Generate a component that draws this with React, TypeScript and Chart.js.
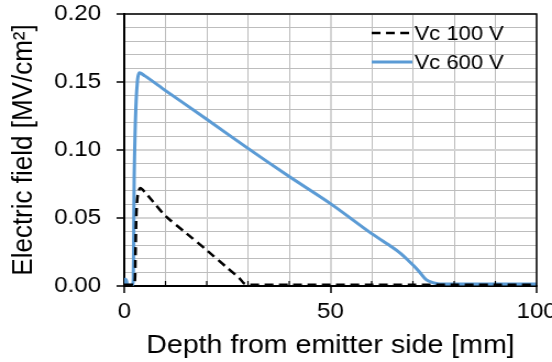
import React, { useEffect, useRef } from "react";
import { Chart, registerables } from "chart.js";

Chart.register(...registerables);

const seriesNames = ["Vc 100 V", "Vc 600 V"];

const depth100 = [0, 1, 2, 2.5, 2.7, 2.9, 3.1, 3.4, 3.9, 5, 7, 10, 15, 20, 25, 28, 29, 30, 40, 50, 60, 70, 80, 90, 100];
const field100 = [0.001, 0.001, 0.001, 0.001, 0.02, 0.05, 0.062, 0.069, 0.072, 0.069, 0.062, 0.0515, 0.0389, 0.0263, 0.0133, 0.0055, 0.002, 0.001, 0.001, 0.001, 0.001, 0.001, 0.001, 0.001, 0.001];

const depth600 = [0, 0.25, 0.5, 0.8, 2, 2.2, 2.3, 2.4, 2.6, 2.8, 3.1, 3.6, 5, 10, 20, 30, 40, 50, 60, 65, 67, 69, 70.5, 71.6, 73.2, 74.8, 76, 78, 80, 90, 100];
const field600 = [0.001, 0.005, 0.004, 0.001, 0.001, 0.01, 0.04, 0.08, 0.11, 0.13, 0.147, 0.1566, 0.1545, 0.1437, 0.1226, 0.1012, 0.0805, 0.0606, 0.0385, 0.0285, 0.024, 0.0184, 0.014, 0.0103, 0.0047, 0.0025, 0.0017, 0.0015, 0.0015, 0.0015, 0.0015];

const yTicks = [0, 0.05, 0.1, 0.15, 0.2];
const xTicks = [0, 50, 100];

const FONT = "'Liberation Sans', Arial, sans-serif";
const STRETCH = 1.1;
const W = 552;
const H = 362;
const CW = Math.round(W / STRETCH);

const framePlugin = {
  id: "frame",
  afterDraw(chart: any) {
    const { ctx, chartArea } = chart;
    ctx.save();
    ctx.strokeStyle = "#000";
    ctx.lineWidth = 1.5;
    ctx.beginPath();
    ctx.moveTo(chartArea.left, chartArea.top);
    ctx.lineTo(chartArea.right, chartArea.top);
    ctx.lineTo(chartArea.right, chartArea.bottom);
    ctx.stroke();
    // minor inner tick marks on x axis
    const xs = chart.scales.x;
    ctx.lineWidth = 1.2;
    ctx.beginPath();
    xs.ticks.forEach((t: any) => {
      if (Math.round(t.value) % 50 !== 0) {
        const px = xs.getPixelForValue(t.value);
        ctx.moveTo(px, chartArea.bottom);
        ctx.lineTo(px, chartArea.bottom - 5);
      }
    });
    ctx.stroke();
    ctx.restore();
  },
};

const legendPlugin = {
  id: "innerLegend",
  afterDraw(chart: any) {
    const { ctx, chartArea } = chart;
    const ds = chart.data.datasets;
    ctx.save();
    ctx.font = `20px ${FONT}`;
    ctx.textBaseline = "middle";
    ctx.fillStyle = "#000";
    const x0 = chartArea.right - 150;
    const x1 = x0 + 37;
    ds.forEach((d: any, i: number) => {
      const y = chartArea.top + 19 + i * 29;
      ctx.strokeStyle = d.borderColor;
      ctx.lineWidth = d.borderWidth;
      ctx.setLineDash(d.borderDash || []);
      ctx.beginPath();
      ctx.moveTo(x0, y);
      ctx.lineTo(x1, y);
      ctx.stroke();
      ctx.setLineDash([]);
      ctx.fillText(d.label, x1 + 2, y + 1);
    });
    ctx.restore();
  },
};

function isMajorY(v: number) {
  return Math.round(v * 100) % 5 === 0;
}
function isMajorX(v: number) {
  return Math.round(v) % 50 === 0;
}

export default function App() {
  const ref = useRef<HTMLCanvasElement>(null);
  useEffect(() => {
    if (!ref.current) return;
    const chart = new Chart(ref.current, {
      type: "line",
      data: {
        datasets: [
          {
            label: seriesNames[0],
            data: depth100.map((x, i) => ({ x, y: field100[i] })),
            borderColor: "#000000",
            borderWidth: 2.5,
            borderDash: [8, 5],
            pointRadius: 0,
            tension: 0.3,
            fill: false,
          },
          {
            label: seriesNames[1],
            data: depth600.map((x, i) => ({ x, y: field600[i] })),
            borderColor: "#5b9bd5",
            borderWidth: 3,
            pointRadius: 0,
            tension: 0.3,
            fill: false,
          },
        ],
      },
      options: {
        animation: false,
        responsive: false,
        maintainAspectRatio: false,
        layout: { padding: { left: 0, right: 14, top: 14, bottom: 1 } },
        plugins: { legend: { display: false }, tooltip: { enabled: false } },
        scales: {
          x: {
            type: "linear",
            min: 0,
            max: 100,
            afterFit(scale: any) {
              scale.height = 75;
              scale.paddingLeft = 0;
              scale.paddingRight = 0;
            },
            ticks: {
              stepSize: 10,
              autoSkip: false,
              maxRotation: 0,
              color: "#000",
              font: { family: FONT, size: 22 },
              padding: 6,
              callback: (v: any) => (xTicks.includes(Number(v)) ? String(v) : ""),
            },
            grid: {
              color: (c: any) => (isMajorX(c.tick?.value ?? 0) ? "#d4d4d4" : "#bdbdbd"),
              lineWidth: (c: any) => (isMajorX(c.tick?.value ?? 0) ? 2 : 1),
              borderDash: (c: any) => (isMajorX(c.tick?.value ?? 0) ? [] : [3, 2]),
              tickColor: (c: any) => (isMajorX(c.tick?.value ?? 0) ? "#000" : "rgba(0,0,0,0)"),
              tickLength: 7,
              tickWidth: 1.5,
            } as any,
            border: { color: "#000", width: 2 },
            title: {
              display: true,
              text: "Depth from emitter side [mm]",
              color: "#000",
              font: { family: FONT, size: 26 },
              padding: { top: 0, bottom: 0 },
            },
          },
          y: {
            type: "linear",
            min: 0,
            max: 0.2,
            afterFit(scale: any) {
              scale.width = 113;
              scale.paddingTop = 0;
              scale.paddingBottom = 0;
            },
            ticks: {
              stepSize: 0.01,
              autoSkip: false,
              color: "#000",
              font: { family: FONT, size: 22 },
              padding: 14,
              callback: (v: any) => {
                const n = Number(v);
                return isMajorY(n) && yTicks.some((t) => Math.abs(t - n) < 1e-6) ? n.toFixed(2) : "";
              },
            },
            grid: {
              color: (c: any) => (isMajorY(c.tick?.value ?? 0) ? "#d4d4d4" : "#bdbdbd"),
              lineWidth: (c: any) => (isMajorY(c.tick?.value ?? 0) ? 2 : 1),
              borderDash: (c: any) => (isMajorY(c.tick?.value ?? 0) ? [] : [3, 2]),
              tickColor: (c: any) => (isMajorY(c.tick?.value ?? 0) ? "#000" : "rgba(0,0,0,0)"),
              tickLength: 7,
              tickWidth: 1.5,
            } as any,
            border: { color: "#000", width: 2 },
            title: {
              display: true,
              text: "Electric field [MV/cm²]",
              color: "#000",
              font: { family: FONT, size: 26 },
              padding: { top: 6, bottom: 0 },
            },
          },
        },
      },
      plugins: [framePlugin, legendPlugin],
    });
    return () => chart.destroy();
  }, []);
  return (
    <div style={{ position: "fixed", left: 0, top: 0, width: W, height: H, background: "#fff", overflow: "hidden" }}>
      <canvas ref={ref} width={CW} height={H} style={{ display: "block", width: W, height: H }} />
    </div>
  );
}
